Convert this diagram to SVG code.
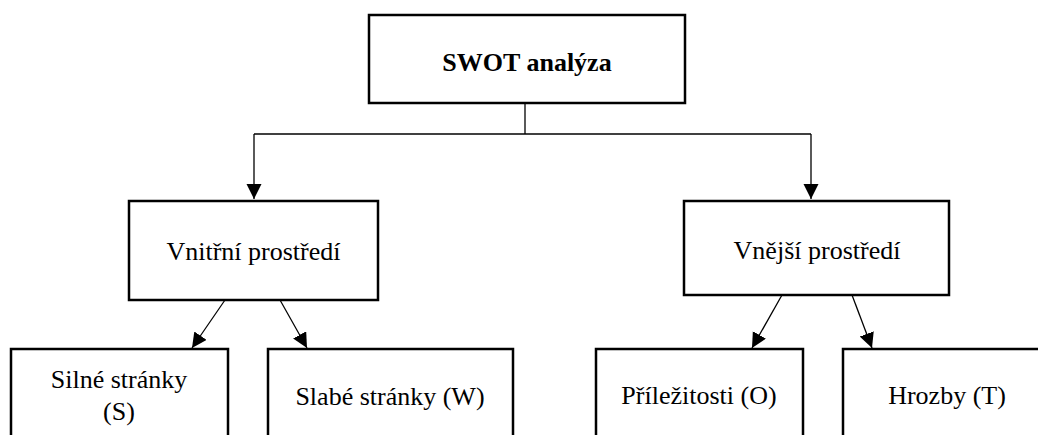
<svg xmlns="http://www.w3.org/2000/svg" width="1038" height="435" viewBox="0 0 1038 435">
  <style>
    .box { fill: #ffffff; stroke: #000000; stroke-width: 2.5; }
    .wire { fill: none; stroke: #000000; stroke-width: 1.3; }
  </style>
  <defs>
    <marker id="arrow" markerUnits="userSpaceOnUse" markerWidth="16" markerHeight="16" refX="15" refY="7.5" orient="auto">
      <path d="M0,0 L15,7.5 L0,15 z" fill="#000000"/>
    </marker>
  </defs>
  <rect width="1038" height="435" fill="#ffffff"/>

  <g id="connectors">
    <line class="wire" x1="525" y1="103" x2="525" y2="134"/>
    <line class="wire" x1="254" y1="134" x2="811" y2="134"/>
    <line class="wire" x1="254" y1="134" x2="254" y2="199" marker-end="url(#arrow)"/>
    <line class="wire" x1="811" y1="134" x2="811" y2="199" marker-end="url(#arrow)"/>
    <line class="wire" x1="225" y1="300" x2="192" y2="348" marker-end="url(#arrow)"/>
    <line class="wire" x1="280" y1="300" x2="307" y2="348" marker-end="url(#arrow)"/>
    <line class="wire" x1="782" y1="295" x2="752" y2="348" marker-end="url(#arrow)"/>
    <line class="wire" x1="852" y1="295" x2="872" y2="348" marker-end="url(#arrow)"/>
  </g>

  <!-- all labels share one serif face -->
  <g font-family="'Liberation Serif', 'DejaVu Serif', serif" font-size="26" fill="#000000" text-anchor="middle">
    <g id="swot">
      <rect class="box" x="369" y="15" width="316" height="88"/>
      <text x="527" y="71" font-weight="bold">SWOT analýza</text>
    </g>

    <g id="vnitrni">
      <rect class="box" x="129" y="201" width="249" height="99"/>
      <text x="253.5" y="260">Vnitřní prostředí</text>
    </g>

    <g id="vnejsi">
      <rect class="box" x="684" y="201" width="265" height="94"/>
      <text x="817" y="259">Vnější prostředí</text>
    </g>

    <g id="silne">
      <rect class="box" x="11" y="349" width="217" height="100"/>
      <text x="119" y="388">Silné stránky</text>
      <text x="119" y="420">(S)</text>
    </g>

    <g id="slabe">
      <rect class="box" x="268" y="349" width="245" height="100"/>
      <text x="390" y="405">Slabé stránky (W)</text>
    </g>

    <g id="prilezitosti">
      <rect class="box" x="596" y="349" width="207" height="100"/>
      <text x="699" y="404">Příležitosti (O)</text>
    </g>

    <g id="hrozby">
      <rect class="box" x="843" y="349" width="210" height="100"/>
      <text x="947" y="404">Hrozby (T)</text>
    </g>
  </g>
</svg>
